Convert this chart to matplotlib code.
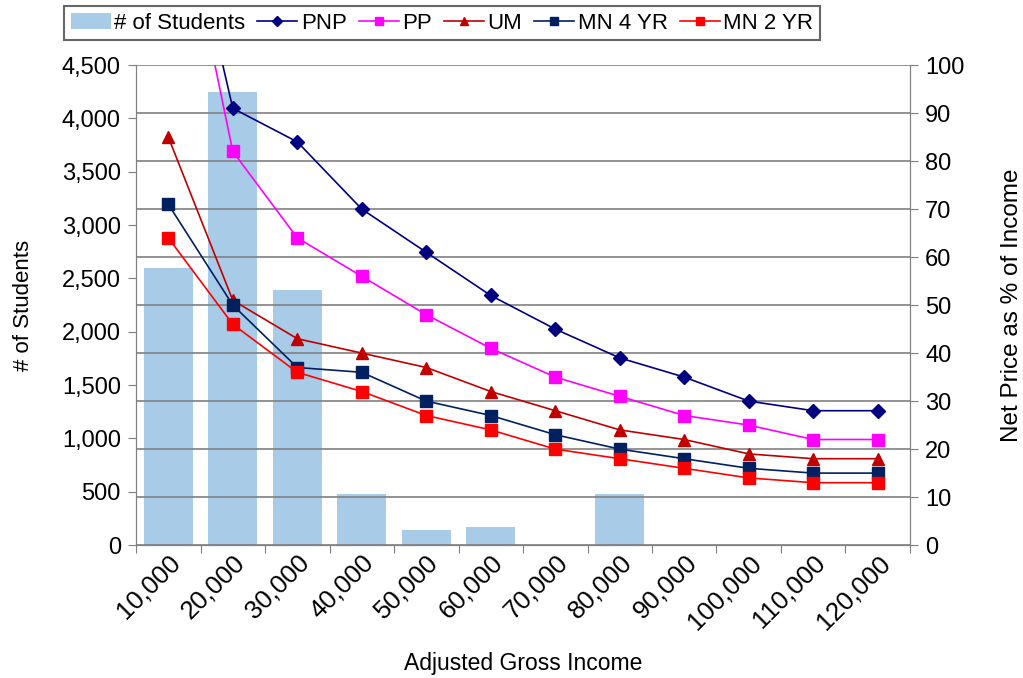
import matplotlib.pyplot as plt
import numpy as np
from matplotlib.ticker import FuncFormatter

plt.rcParams['font.family'] = ['Liberation Sans', 'DejaVu Sans']

income = ["10,000", "20,000", "30,000", "40,000", "50,000", "60,000",
          "70,000", "80,000", "90,000", "100,000", "110,000", "120,000"]
students = [2600, 4250, 2390, 480, 140, 170, 0, 480, 0, 0, 0, 0]
pnp = [149, 91, 84, 70, 61, 52, 45, 39, 35, 30, 28, 28]
pp = [147, 82, 64, 56, 48, 41, 35, 31, 27, 25, 22, 22]
um = [85, 51, 43, 40, 37, 32, 28, 24, 22, 19, 18, 18]
mn4 = [71, 50, 37, 36, 30, 27, 23, 20, 18, 16, 15, 15]
mn2 = [64, 46, 36, 32, 27, 24, 20, 18, 16, 14, 13, 13]

x = np.arange(len(income))
fs = 17

fig = plt.figure(figsize=(10.23, 6.78), dpi=100)
ax = fig.add_axes([0.133, 0.196, 0.7565, 0.708])
ax2 = ax.twinx()

bars = ax.bar(x, students, width=0.76, color="#a8cbe8", label="# of Students", zorder=1)
ax.set_ylim(0, 4500)
ax.set_yticks(np.arange(0, 4501, 500))
ax.yaxis.set_major_formatter(FuncFormatter(lambda v, p: f"{int(v):,}"))
ax.set_xlim(-0.5, len(income) - 0.5)
ax.set_xticks(np.arange(-0.5, len(income), 1.0))
ax.set_xticklabels([])
ax.set_xticks(x, minor=True)
ax.set_xticklabels(income, minor=True, rotation=45, ha="right", va="top",
                   rotation_mode="anchor", fontsize=18.5)
ax.tick_params(axis="x", which="minor", length=0, pad=4)
ax.tick_params(axis="x", which="major", length=6, color="#808080", direction="out")
ax.tick_params(axis="y", length=6, color="#808080", labelsize=fs, pad=5)
ax.set_ylabel("# of Students", fontsize=16, labelpad=20)
ax.set_xlabel("Adjusted Gross Income", fontsize=16.5, labelpad=13)

# right axis: net price lines
ax2.set_ylim(0, 100)
ax2.set_yticks(np.arange(0, 101, 10))
ax2.grid(axis="y", color="#808080", linewidth=1.2, zorder=0)
ax2.tick_params(axis="y", length=6, color="#808080", labelsize=fs, pad=5)
ax2.set_ylabel("Net Price as % of Income", fontsize=17.5, labelpad=26)

l1, = ax2.plot(x, pnp, color="#000080", marker="D", markersize=7, linewidth=1.2, label="PNP")
l2, = ax2.plot(x, pp, color="#ff00ff", marker="s", markersize=8, linewidth=1.2, label="PP")
l3, = ax2.plot(x, um, color="#c00000", marker="^", markersize=8.5, linewidth=1.2, label="UM")
l4, = ax2.plot(x, mn4, color="#002060", marker="s", markersize=8, linewidth=1.2, label="MN 4 YR")
l5, = ax2.plot(x, mn2, color="#ff0000", marker="s", markersize=8, linewidth=1.2, label="MN 2 YR")

for a in (ax, ax2):
    for s in a.spines.values():
        s.set_color("#808080")
    a.spines["top"].set_visible(False)

leg = fig.legend(handles=[bars, l1, l2, l3, l4, l5], loc="center",
                 bbox_to_anchor=(0.432, 0.966), ncol=6, fontsize=16,
                 frameon=True, fancybox=False, edgecolor="#404040",
                 handlelength=1.8, handletextpad=0.15, columnspacing=0.55,
                 borderpad=0.3, markerscale=0.7)
leg.get_frame().set_linewidth(1.5)

fig.savefig("out.png", dpi=100)
